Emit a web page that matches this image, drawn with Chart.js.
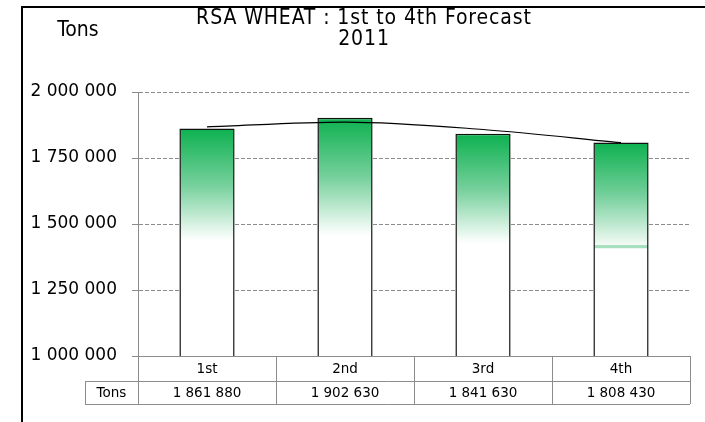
<!DOCTYPE html>
<html>
<head>
<meta charset="utf-8">
<script src="https://cdn.jsdelivr.net/npm/chart.js@4/dist/chart.umd.min.js"></script>
<style>
html,body{margin:0;padding:0;background:#fff;}
#wrap{width:705px;height:422px;position:relative;}
</style>
</head>
<body>
<div id="wrap"><canvas id="c" width="705" height="422"></canvas></div>
<script>
const categories = ['1st', '2nd', '3rd', '4th'];
const tons = [1861880, 1902630, 1841630, 1808430];
const trendLine = [1868000, 1886000, 1858000, 1808000];
const yTicks = [1000000, 1250000, 1500000, 1750000, 2000000];
const rowLabel = 'Tons';
const titleLines = ['RSA WHEAT : 1st to 4th Forecast', '2011'];
const yAxisTitle = 'Tons';

function fmt(n) { return String(n).replace(/\B(?=(\d{3})+(?!\d))/g, ' '); }

const FONT = '"DejaVu Sans", Verdana, sans-serif';
const TFONT = '"DejaVu Sans Condensed", "DejaVu Sans", Tahoma, sans-serif';

function barFill(ctx) {
  const chart = ctx.chart;
  if (!chart.chartArea) return '#0db150';
  const y = chart.scales.y;
  const v = ctx.raw;
  const top = y.getPixelForValue(v);
  const base = y.getPixelForValue(y.min);
  const h = base - top;
  const g = chart.ctx.createLinearGradient(0, top, 0, top + h * 0.5);
  g.addColorStop(0, '#0db150');
  g.addColorStop(0.5, '#76d09c');
  if (ctx.dataIndex === 3) {
    g.addColorStop(0.955, '#f2faf5');
    g.addColorStop(0.965, '#a6dfbe');
    g.addColorStop(0.985, '#a6dfbe');
    g.addColorStop(0.995, '#ffffff');
  } else {
    g.addColorStop(0.97, '#fbfefc');
  }
  g.addColorStop(1, '#ffffff');
  return g;
}

const decor = {
  id: 'decor',
  afterDraw(chart) {
    const c = chart.ctx;
    const x = chart.scales.x;
    const ca = chart.chartArea;
    const y0 = ca.bottom, y1 = y0 + 25, y2 = y1 + 23;
    const half = (x.getPixelForValue(1) - x.getPixelForValue(0)) / 2;
    const leftCell = 85;
    c.save();
    c.strokeStyle = '#8c8c8c';
    c.lineWidth = 1;
    c.beginPath();
    c.moveTo(ca.left, y0 + 0.5); c.lineTo(ca.right, y0 + 0.5);
    c.moveTo(leftCell, y1 + 0.5); c.lineTo(ca.right, y1 + 0.5);
    c.moveTo(leftCell, y2 + 0.5); c.lineTo(ca.right, y2 + 0.5);
    c.moveTo(leftCell + 0.5, y1); c.lineTo(leftCell + 0.5, y2);
    c.moveTo(ca.left + 0.5, y0); c.lineTo(ca.left + 0.5, y2);
    categories.forEach((cat, i) => {
      const xr = Math.round(x.getPixelForValue(i) + half) + 0.5;
      c.moveTo(xr, y0); c.lineTo(xr, y2);
    });
    c.stroke();
    c.fillStyle = '#000';
    c.textAlign = 'center';
    c.textBaseline = 'middle';
    c.font = '13.5px ' + FONT;
    categories.forEach((cat, i) => {
      const cx = x.getPixelForValue(i);
      c.fillText(cat, cx, (y0 + y1) / 2 + 1);
      c.fillText(fmt(tons[i]), cx, (y1 + y2) / 2 + 1);
    });
    c.fillText(rowLabel, (leftCell + ca.left) / 2, (y1 + y2) / 2 + 1);
    c.font = '21px ' + TFONT;
    c.fillText(yAxisTitle, 78, 31);
    if ('letterSpacing' in c) c.letterSpacing = '0.9px';
    c.fillText(titleLines[0], 364, 19);
    c.fillText(titleLines[1], 364, 40);
    if ('letterSpacing' in c) c.letterSpacing = '0px';
    c.strokeStyle = '#000';
    c.lineWidth = 2;
    c.beginPath();
    c.moveTo(22, 422); c.lineTo(22, 7); c.lineTo(705, 7);
    c.stroke();
    c.restore();
  }
};

new Chart(document.getElementById('c'), {
  data: {
    labels: categories,
    datasets: [
      {
        type: 'line',
        data: trendLine,
        borderColor: '#000',
        borderWidth: 1.2,
        pointRadius: 0,
        cubicInterpolationMode: 'monotone',
        order: 0
      },
      {
        type: 'bar',
        data: tons,
        backgroundColor: barFill,
        borderColor: '#111',
        borderWidth: 1.5,
        borderSkipped: false,
        barPercentage: 0.4,
        categoryPercentage: 1,
        order: 1
      }
    ]
  },
  options: {
    responsive: false,
    animation: false,
    layout: { padding: { left: 22, right: 15, top: 92, bottom: 66 } },
    plugins: { legend: { display: false }, tooltip: { enabled: false }, title: { display: false } },
    scales: {
      x: { display: false, offset: true },
      y: {
        min: yTicks[0],
        max: yTicks[yTicks.length - 1],
        afterBuildTicks(s) { s.ticks = yTicks.map(v => ({ value: v })); },
        afterFit(s) { s.width = 116; },
        ticks: {
          padding: 15,
          color: '#000',
          font: { family: FONT, size: 17 },
          callback: v => fmt(v)
        },
        grid: { color: '#8c8c8c', tickLength: 6, tickColor: '#8c8c8c', drawOnChartArea: true },
        border: { display: true, color: '#8c8c8c', width: 1, dash: [4, 2] }
      }
    }
  },
  plugins: [decor]
});
</script>
</body>
</html>
